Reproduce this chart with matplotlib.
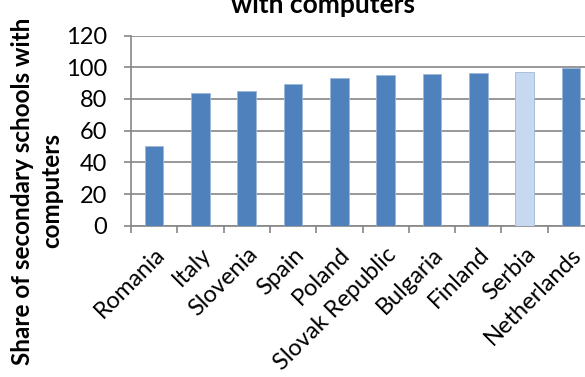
import matplotlib
matplotlib.use("Agg")
import matplotlib.pyplot as plt
import numpy as np

countries = ["Romania", "Italy", "Slovenia", "Spain", "Poland",
             "Slovak Republic", "Bulgaria", "Finland", "Serbia", "Netherlands"]
share = [50, 84, 85, 89.5, 93, 95, 95.5, 96.5, 97.2, 99.5]
highlight = "Serbia"

plt.rcParams['font.family'] = ['Lato', 'DejaVu Sans']

W, H = 585, 377
fig = plt.figure(figsize=(W / 100, H / 100), dpi=100)

# plot area in pixels (right part runs off the image like the original)
x0, x1 = 131, 594
ytop, ybot = 35.5, 225.7
ax = fig.add_axes([x0 / W, 1 - ybot / H, (x1 - x0) / W, (ybot - ytop) / H])

pos = np.arange(len(countries))
colors = ['#C6D9F1' if c == highlight else '#4F81BD' for c in countries]
ax.bar(pos, share, width=0.4, color=colors, edgecolor='#9DB7DA',
       linewidth=0.6, zorder=3)

ax.set_xlim(-0.5, len(countries) - 0.5)
ax.set_ylim(0, 120)
ax.set_yticks(range(0, 121, 20))
ax.yaxis.grid(True, color='#868686', linewidth=1.2, zorder=0)

ax.set_xticks(pos)
ax.set_xticklabels(countries, rotation=45, ha='right', va='top',
                   rotation_mode='anchor', fontsize=17)
ax.set_xticks(np.arange(-0.5, len(countries), 1), minor=True)
ax.tick_params(axis='x', which='major', length=0, pad=13)
ax.tick_params(axis='x', which='minor', length=5, width=1.2, color='#868686')
ax.tick_params(axis='y', length=5, width=1.2, color='#868686',
               labelsize=17, pad=12)

for side in ('top', 'right'):
    ax.spines[side].set_visible(False)
for side in ('left', 'bottom'):
    ax.spines[side].set_color('#868686')
    ax.spines[side].set_linewidth(1.2)

fig.text(37 / W, 1 - 191 / H, "Share of secondary schools with\ncomputers",
         rotation=90, ha='center', va='center', fontsize=17.5,
         fontweight='bold', linespacing=1.3, multialignment='center')

# title: only the second line is inside the image
fig.text(323 / W, 1 - 13 / H, "with computers", ha='center', va='baseline',
         fontsize=19, fontweight='bold')

fig.savefig("out.png", dpi=100, facecolor='white')
